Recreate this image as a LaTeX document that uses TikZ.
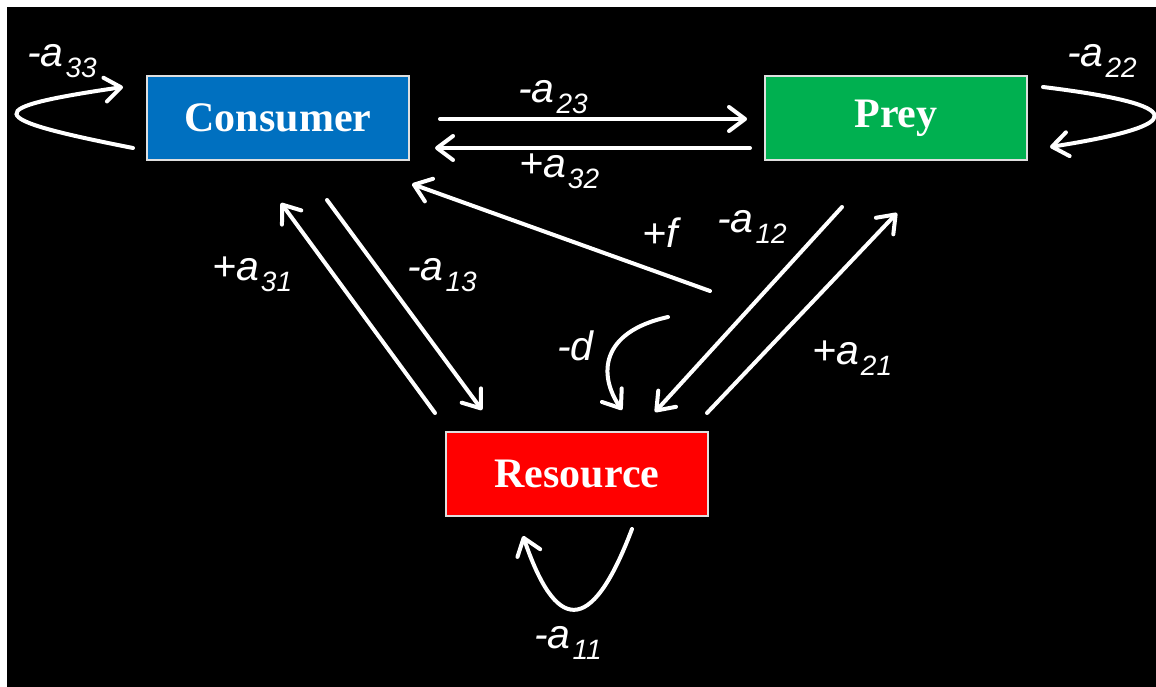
\documentclass[tikz,border=0pt]{standalone}
\usepackage{fontspec}
\setmainfont{Liberation Serif}
\newfontfamily\labfont{Liberation Sans}
\usetikzlibrary{arrows.meta}
\definecolor{conblue}{HTML}{0070C0}
\definecolor{preygreen}{HTML}{00B050}
\definecolor{resred}{HTML}{FF0000}
\newcommand{\coef}[2]{{\fontsize{41}{41}\selectfont #1}\kern2pt\raisebox{-11pt}{\fontsize{28}{28}\selectfont #2}}
\newcommand{\plainlab}[1]{{\fontsize{41}{41}\selectfont #1}}
\tikzset{
  box/.style={draw=gray!25, line width=1.5pt, minimum width=262pt, minimum height=84pt, inner sep=0pt,
    text=white, font=\fontsize{42}{42}\selectfont\bfseries},
  lbl/.style={text=white, inner sep=0pt, anchor=base west, font=\labfont\itshape},
  link/.style={draw=white, line width=4pt, line cap=round,
    -{Straight Barb[length=16pt,width=24pt,round]}}
}
\begin{document}
\begin{tikzpicture}[x=1pt,y=-1pt]
\useasboundingbox (0,0) rectangle (1156,687);
\fill[white] (-5,-5) rectangle (1165,695);
\fill[black] (7,7) rectangle (1165,695);
% boxes
\node[box, fill=conblue] (con) at (278,118) {Consumer};
\node[box, fill=preygreen] (prey) at (896,118) {Prey};
\node[box, fill=resred] (res) at (577,474) {Resource};
% endpoints
\coordinate (cp1) at (440,119);
\coordinate (cp2) at (747,119);
\coordinate (pc1) at (750,148);
\coordinate (pc2) at (435,148);
\coordinate (cl1) at (133,148);
\coordinate (cl2) at (123,87);
\coordinate (pl1) at (1043,87);
\coordinate (pl2) at (1050,147);
\coordinate (rl1) at (632,529);
\coordinate (rl2) at (523,536);
\coordinate (cr1) at (327,200);
\coordinate (cr2) at (482,410);
\coordinate (rc1) at (435,413);
\coordinate (rc2) at (281,203);
\coordinate (pr1) at (842,207);
\coordinate (pr2) at (655,412);
\coordinate (rp1) at (707,413);
\coordinate (rp2) at (897,213);
\coordinate (f1) at (710,291);
\coordinate (f2) at (412,184);
\coordinate (d1) at (668,317);
\coordinate (d2) at (622,410);
% connectors
\draw[link] (cl1) .. controls (-20,118) and (-20,108) .. (cl2);
\draw[link] (pl1) .. controls (1190,105) and (1190,125) .. (pl2);
\draw[link] (rl1) .. controls (590,640) and (555,630) .. (rl2);
\draw[link] (cp1) -- (cp2);
\draw[link] (pc1) -- (pc2);
\draw[link] (cr1) -- (cr2);
\draw[link] (rc1) -- (rc2);
\draw[link] (pr1) -- (pr2);
\draw[link] (rp1) -- (rp2);
\draw[link] (f1) -- (f2);
\draw[link] (d1) .. controls (600,332) and (598,375) .. (d2);
% labels
\node[lbl] (l33) at (27,67) {\coef{-a}{33}};
\node[lbl] (l22) at (1067,67) {\coef{-a}{22}};
\node[lbl] (l23) at (518,103) {\coef{-a}{23}};
\node[lbl] (l32) at (519,178) {\coef{+a}{32}};
\node[lbl] (l13) at (407,280) {\coef{-a}{13}};
\node[lbl] (l31) at (212,280) {\coef{+a}{31}};
\node[lbl] (lf) at (642,247) {\plainlab{+f}};
\node[lbl] (l12) at (717,233) {\coef{-a}{12}};
\node[lbl] (l21) at (812,364) {\coef{+a}{21}};
\node[lbl] (ld) at (557,360) {\plainlab{-d}};
\node[lbl] (l11) at (534,648) {\coef{-a}{11}};
\end{tikzpicture}
\end{document}
